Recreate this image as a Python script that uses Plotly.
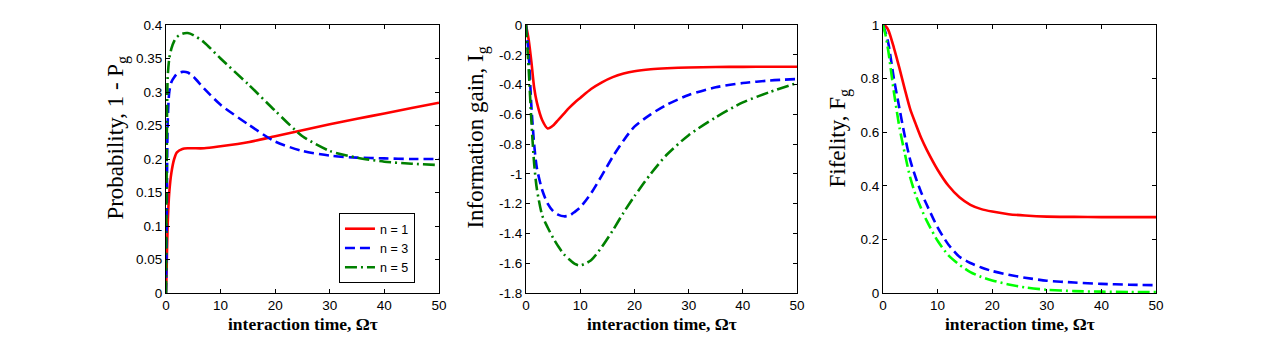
import plotly.graph_objects as go

# panel 1: probability 1 - P_g
t_prob = [0, 0.1, 0.3, 0.6, 1, 1.5, 2, 3, 4, 5, 7, 10, 15, 20, 25, 30, 35, 40, 45, 50]
prob_n1 = [0, 0.03, 0.1, 0.15, 0.18, 0.2, 0.21, 0.215, 0.216, 0.216, 0.216, 0.219, 0.225,
           0.234, 0.243, 0.252, 0.26, 0.268, 0.276, 0.284]
prob_n3 = [0, 0.06, 0.25, 0.3, 0.315, 0.322, 0.327, 0.33, 0.329, 0.323, 0.305, 0.281, 0.252,
           0.226, 0.212, 0.205, 0.202, 0.201, 0.2, 0.2]
prob_n5 = [0, 0.15, 0.32, 0.35, 0.365, 0.376, 0.382, 0.387, 0.388, 0.385, 0.374, 0.35, 0.312,
           0.272, 0.234, 0.212, 0.202, 0.196, 0.193, 0.191]

# panel 2: information gain I_g
t_info = [0, 0.5, 1, 1.5, 2, 3, 4, 5, 6, 7, 8, 9, 10, 12, 14, 16, 18, 20, 23, 26, 30, 35, 40, 45, 50]
info_n1 = [0, -0.1, -0.25, -0.42, -0.52, -0.64, -0.695, -0.675, -0.635, -0.595, -0.555, -0.52,
           -0.49, -0.43, -0.385, -0.35, -0.326, -0.31, -0.297, -0.29, -0.285, -0.282, -0.281,
           -0.28, -0.28]
info_n3 = [0, -0.2, -0.55, -0.8, -0.96, -1.11, -1.2, -1.25, -1.275, -1.285, -1.28, -1.255,
           -1.225, -1.13, -1.01, -0.885, -0.775, -0.683, -0.6, -0.535, -0.47, -0.418, -0.39,
           -0.373, -0.363]
info_n5 = [0, -0.3, -0.65, -0.93, -1.1, -1.28, -1.36, -1.43, -1.49, -1.54, -1.575, -1.605,
           -1.615, -1.58, -1.49, -1.38, -1.26, -1.15, -1.0, -0.87, -0.74, -0.62, -0.52, -0.45,
           -0.39]

# panel 3: fidelity F_g
t_fid = [0, 0.5, 1, 2, 3, 4, 5, 6, 7, 8, 10, 12, 14, 16, 18, 20, 23, 26, 30, 35, 40, 45, 50]
fid_n1 = [1.0, 0.995, 0.98, 0.915, 0.84, 0.76, 0.685, 0.63, 0.578, 0.535, 0.46, 0.4, 0.357,
          0.329, 0.313, 0.304, 0.294, 0.289, 0.285, 0.284, 0.283, 0.283, 0.283]
fid_n3 = [1.0, 0.97, 0.93, 0.8, 0.69, 0.585, 0.495, 0.43, 0.375, 0.33, 0.245, 0.18, 0.135,
          0.112, 0.095, 0.082, 0.068, 0.057, 0.046, 0.039, 0.034, 0.031, 0.029]
fid_n5 = [1.0, 0.96, 0.9, 0.75, 0.62, 0.52, 0.43, 0.365, 0.315, 0.27, 0.195, 0.14, 0.105,
          0.078, 0.06, 0.047, 0.032, 0.021, 0.012, 0.007, 0.005, 0.004, 0.004]

labels = ["n = 1", "n = 3", "n = 5"]
x_ticks = [0, 10, 20, 30, 40, 50]
prob_ticks = [0, 0.05, 0.1, 0.15, 0.2, 0.25, 0.3, 0.35, 0.4]
info_ticks = [-1.8, -1.6, -1.4, -1.2, -1, -0.8, -0.6, -0.4, -0.2, 0]
fid_ticks = [0, 0.2, 0.4, 0.6, 0.8, 1]
y_titles = ["Probability, 1 - P<sub>g</sub>", "Information gain, I<sub>g</sub>",
            "Fifelity, F<sub>g</sub>"]
x_title = "<b>interaction time, \u03a9\u03c4</b>"

red, blue, green, lime = "#ff0000", "#0000ff", "#008000", "#00ff00"
tick_font = dict(family="Arial, Liberation Sans, sans-serif", size=13.5, color="black")
leg_font = dict(family="Arial, Liberation Sans, sans-serif", size=12.5, color="black")
xt_font = dict(family="Times New Roman, Liberation Serif, serif", size=17.5, color="black")
yt_font = dict(family="Times New Roman, Liberation Serif, serif", size=23, color="black")

# page body has an 8px margin, so the figure is 8px smaller than the window
W, H = 1269, 330

fig = go.Figure()

panels = [
    ("x", "y", t_prob, [prob_n1, prob_n3, prob_n5], [red, blue, green], True),
    ("x2", "y2", t_info, [info_n1, info_n3, info_n5], [red, blue, green], False),
    ("x3", "y3", t_fid, [fid_n1, fid_n3, fid_n5], [red, blue, lime], False),
]
dashes = ["solid", "10px,5px", "12px,4px,2px,4px"]
for xa, ya, t, series, colors, show in panels:
    for vals, col, dash, lab in zip(series, colors, dashes, labels):
        fig.add_trace(go.Scatter(
            x=t, y=vals, xaxis=xa, yaxis=ya, mode="lines", name=lab,
            line=dict(color=col, width=2.6, dash=dash, shape="spline", smoothing=0.7),
            showlegend=show))

axis_common = dict(showline=True, linecolor="black", linewidth=1, mirror="ticks",
                   ticks="inside", ticklen=4, tickcolor="black", showgrid=False,
                   zeroline=False, tickfont=tick_font, automargin=False)

def fmt(v):
    return "%g" % v

# axis titles as annotations so they can sit where the original has them
for xpos, txt in zip([0.0867, 0.3704, 0.6556], y_titles):
    fig.add_annotation(text=txt, x=xpos, y=0.58, xref="paper", yref="paper",
                       textangle=-90, showarrow=False, font=yt_font,
                       xanchor="center", yanchor="middle")
for xpos in [0.2321, 0.5150, 0.7971]:
    fig.add_annotation(text=x_title, x=xpos, y=-0.115, xref="paper", yref="paper",
                       showarrow=False, font=xt_font, xanchor="center", yanchor="middle")

fig.update_layout(
    width=W, height=H, paper_bgcolor="white", plot_bgcolor="white",
    margin=dict(l=0, r=0, t=17, b=45),
    xaxis=dict(domain=[0.1245, 0.3396], range=[0, 50], tickvals=x_ticks, **axis_common),
    yaxis=dict(range=[0, 0.4], tickvals=prob_ticks, ticktext=[fmt(v) for v in prob_ticks],
               **axis_common),
    xaxis2=dict(domain=[0.4082, 0.6218], range=[0, 50], tickvals=x_ticks,
                anchor="y2", **axis_common),
    yaxis2=dict(range=[-1.8, 0], tickvals=info_ticks, ticktext=[fmt(v) for v in info_ticks],
                anchor="x2", **axis_common),
    xaxis3=dict(domain=[0.6895, 0.9047], range=[0, 50], tickvals=x_ticks,
                anchor="y3", **axis_common),
    yaxis3=dict(range=[0, 1], tickvals=fid_ticks, ticktext=[fmt(v) for v in fid_ticks],
                anchor="x3", **axis_common),
    legend=dict(x=0.3207, y=0.037, xanchor="right", yanchor="bottom",
                bgcolor="white", bordercolor="black", borderwidth=1,
                font=leg_font, tracegroupgap=0),
)

fig.write_html("out.html")
